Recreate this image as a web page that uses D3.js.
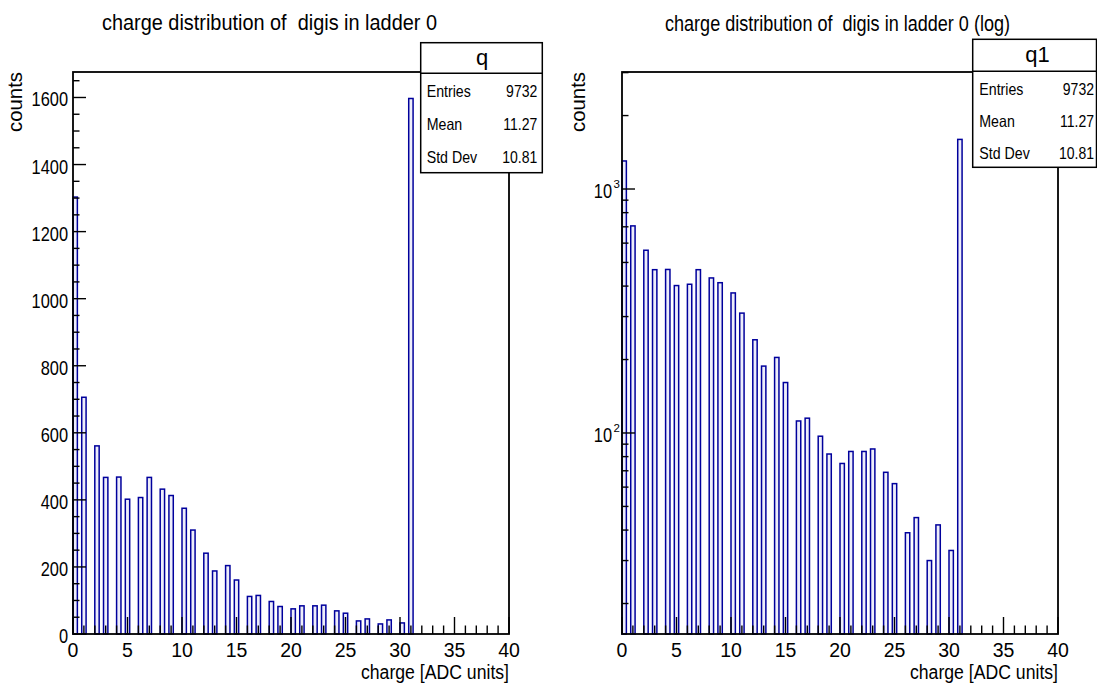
<!DOCTYPE html>
<html>
<head>
<meta charset="utf-8">
<script src="https://cdn.jsdelivr.net/npm/d3@7"></script>
<style>
  html, body { margin: 0; padding: 0; background: #ffffff; }
  svg { display: block; }
  text { font-family: "Liberation Sans", Arial, Helvetica, sans-serif; font-weight: normal; fill: #000; white-space: pre; }
</style>
</head>
<body>
<svg id="canvas" width="1097" height="683"></svg>
<script>
// ---- histogram data: digi charge in ladder 0 (entries per ADC value) ----
const charges = [0, 1, 2, 3, 4, 5, 6, 7, 8, 9, 10, 11, 12, 13, 14, 15,
                 16, 17, 18, 19, 20, 21, 22, 23, 24, 25, 26, 27, 28, 29, 30, 31];
const counts  = [1303, 706, 561, 467, 468, 402, 407, 467, 432, 413, 375, 310, 241, 188, 204, 161,
                 112, 115, 97, 82, 75, 84, 84, 86, 69, 62, 39, 45, 30, 42, 33, 1597];

// binning of the histogram axis
const nBins = 100;
const xRange = [0, 40];

// statistics box contents
const statNames  = ["Entries", "Mean", "Std Dev"];
const statValues = ["9732", "11.27", "10.81"];

// titles
const histNames  = ["q", "q1"];
const titles     = ["charge distribution of  digis in ladder 0",
                    "charge distribution of  digis in ladder 0 (log)"];
const xTitle = "charge [ADC units]";
const yTitle = "counts";

// axis ranges
const yLinRange = [0, 1676];
const yLogRange = [15, 3017];

const svg = d3.select("#canvas");

function squeeze(sel, k) {
  sel.each(function () {
    const w = this.getComputedTextLength();
    d3.select(this).attr("textLength", w * k).attr("lengthAdjust", "spacingAndGlyphs");
  });
  return sel;
}
function fit(sel, w) {
  return sel.attr("textLength", w).attr("lengthAdjust", "spacingAndGlyphs");
}

const binW = (xRange[1] - xRange[0]) / nBins;
const bins = charges.map((q, i) => {
  const idx = Math.floor((q - xRange[0]) * nBins / (xRange[1] - xRange[0]) + 1e-9);
  const lo = xRange[0] + idx * binW;
  return { lo: lo, hi: lo + binW, n: counts[i] };
});

const panels = [
  { x0: 73, x1: 509, y0: 72, y1: 634, log: false, title: titles[0], titleX: 102, titleBase: 30, titleW: 335,
    yTitleX: 21.5, box: { x: 420.7, y: 42.7, x2: 542.3, y2: 172.7, sep: 73.3, tx: 482, tb: 65,
    rows: [96.7, 130, 162.7], lx: 426.7, vx: 537.3 }, name: histNames[0] },
  { x0: 622, x1: 1058, y0: 72, y1: 634, log: true, title: titles[1], titleX: 665, titleBase: 31, titleW: 345,
    yTitleX: 585, box: { x: 972.7, y: 39.3, x2: 1096.5, y2: 167.3, sep: 71.3, tx: 1037.5, tb: 61.7,
    rows: [95, 126.7, 159.3], lx: 979.3, vx: 1094 }, name: histNames[1] }
];

panels.forEach(p => {
  const g = svg.append("g");
  const x = d3.scaleLinear().domain(xRange).range([p.x0, p.x1]);
  const y = p.log
    ? d3.scaleLog().domain(yLogRange).range([p.y1, p.y0])
    : d3.scaleLinear().domain(yLinRange).range([p.y1, p.y0]);

  // histogram bars (outline style)
  g.append("g").selectAll("rect").data(bins).join("rect")
    .attr("x", d => x(d.lo))
    .attr("width", d => x(d.hi) - x(d.lo))
    .attr("y", d => y(d.n))
    .attr("height", d => p.y1 - y(d.n))
    .attr("fill", "#eeeefa")
    .attr("stroke", "#00009c")
    .attr("stroke-width", 1.5);

  // x-axis ticks (inside the frame, pointing up)
  const xMajor = d3.range(xRange[0], xRange[1] + 0.001, 5);
  const xMinor = d3.range(xRange[0], xRange[1] + 0.001, 1).filter(v => v % 5 !== 0);
  const tk = g.append("g").attr("stroke", "#000").attr("stroke-width", 1.4);
  tk.selectAll(".xM").data(xMajor).join("line")
    .attr("x1", d => x(d)).attr("x2", d => x(d)).attr("y1", p.y1).attr("y2", p.y1 - 17);
  tk.selectAll(".xm").data(xMinor).join("line")
    .attr("x1", d => x(d)).attr("x2", d => x(d)).attr("y1", p.y1).attr("y2", p.y1 - 8.5);

  g.append("g").selectAll("text").data(xMajor).join("text")
    .attr("x", d => x(d)).attr("y", 657)
    .attr("text-anchor", "middle").attr("font-size", 19.5)
    .text(d => d3.format("d")(d));

  // y-axis ticks
  let yMajor, yMinor;
  if (p.log) {
    const all = y.ticks();
    yMajor = all.filter(v => Math.abs(Math.log10(v) - Math.round(Math.log10(v))) < 1e-9);
    yMinor = all.filter(v => yMajor.indexOf(v) < 0);
  } else {
    yMajor = d3.ticks(yLinRange[0], yLinRange[1], 8);
    yMinor = d3.range(yLinRange[0], yLinRange[1], 50).filter(v => v % 200 !== 0);
  }
  tk.selectAll(".yM").data(yMajor).join("line")
    .attr("x1", p.x0).attr("x2", p.x0 + 13).attr("y1", d => y(d)).attr("y2", d => y(d));
  tk.selectAll(".ym").data(yMinor).join("line")
    .attr("x1", p.x0).attr("x2", p.x0 + 6.5).attr("y1", d => y(d)).attr("y2", d => y(d));

  if (p.log) {
    const lab = g.append("g").selectAll("g").data(yMajor).join("g");
    squeeze(lab.append("text")
      .attr("x", p.x0 - 10).attr("y", d => y(d) + 9)
      .attr("text-anchor", "end").attr("font-size", 21)
      .text("10"), 0.78);
    lab.append("text")
      .attr("x", p.x0 - 8.5).attr("y", d => y(d) - 1)
      .attr("font-size", 11.5)
      .text(d => Math.round(Math.log10(d)));
  } else {
    squeeze(g.append("g").selectAll("text").data(yMajor).join("text")
      .attr("x", p.x0 - 5).attr("y", d => y(d) + 9)
      .attr("text-anchor", "end").attr("font-size", 21)
      .text(d => d3.format("d")(d)), 0.78);
  }

  // frame
  g.append("rect")
    .attr("x", p.x0).attr("y", p.y0)
    .attr("width", p.x1 - p.x0).attr("height", p.y1 - p.y0)
    .attr("fill", "none").attr("stroke", "#000").attr("stroke-width", 1.8);

  // axis titles
  fit(g.append("text")
    .attr("x", p.x1).attr("y", 679)
    .attr("text-anchor", "end").attr("font-size", 19.5)
    .text(xTitle), 148);
  fit(g.append("text")
    .attr("transform", `translate(${p.yTitleX},${p.y0}) rotate(-90)`)
    .attr("text-anchor", "end").attr("font-size", 20)
    .text(yTitle), 60);

  // plot title
  fit(g.append("text")
    .attr("x", p.titleX).attr("y", p.titleBase)
    .attr("font-size", 22)
    .text(p.title), p.titleW);

  // statistics box
  const b = p.box;
  const sb = g.append("g");
  sb.append("rect")
    .attr("x", b.x).attr("y", b.y).attr("width", b.x2 - b.x).attr("height", b.y2 - b.y)
    .attr("fill", "#fff").attr("stroke", "#000").attr("stroke-width", 1.5);
  sb.append("line")
    .attr("x1", b.x).attr("x2", b.x2).attr("y1", b.sep).attr("y2", b.sep)
    .attr("stroke", "#000").attr("stroke-width", 1.5);
  sb.append("text")
    .attr("x", b.tx).attr("y", b.tb).attr("text-anchor", "middle")
    .attr("font-size", 22).text(p.name);
  squeeze(sb.selectAll(".sn").data(statNames).join("text")
    .attr("x", b.lx).attr("y", (d, i) => b.rows[i])
    .attr("font-size", 16.5).text(d => d), 0.86);
  squeeze(sb.selectAll(".sv").data(statValues).join("text")
    .attr("x", b.vx).attr("y", (d, i) => b.rows[i])
    .attr("text-anchor", "end")
    .attr("font-size", 16.5).text(d => d), 0.85);
});
</script>
</body>
</html>
